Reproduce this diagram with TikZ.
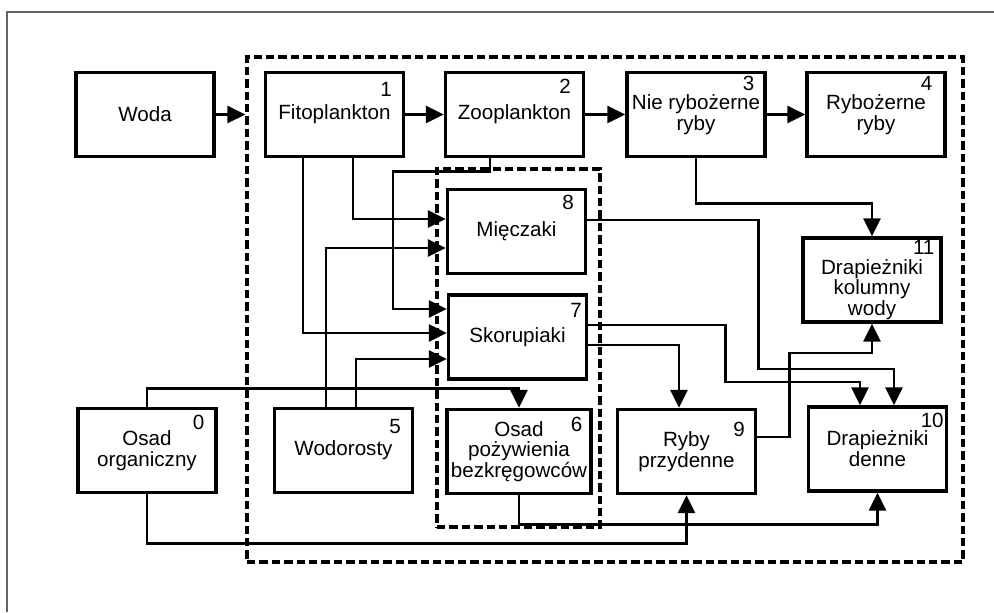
\documentclass[tikz,border=0pt]{standalone}
\usepackage{fontspec}
\setmainfont{Liberation Sans}
\usepackage{tikz}
\usetikzlibrary{shapes,arrows.meta,positioning}
\tikzstyle{box}=[rectangle,draw,line width=1.7pt,align=center,minimum width=69pt,minimum height=42pt,inner sep=1pt,font=\fontsize{10.3}{10.4}\selectfont]
\tikzstyle{num}=[inner sep=0pt,font=\fontsize{10.3}{10.4}\selectfont]
\tikzstyle{zone}=[rectangle,draw,line width=1.6pt,dash pattern=on 4.2pt off 2pt]
\tikzstyle{arr}=[-{Triangle[length=9pt,width=8.5pt]},line width=1.4pt]
\tikzstyle{frame}=[draw=black!60,line width=0.6pt]

\begin{document}
\begin{tikzpicture}[x=0.5pt,y=-0.5pt]
\useasboundingbox (0,0) rectangle (994,612);
\draw[frame] (7,612) -- (7,12) -- (994,12);
% strefy
\node[zone,minimum width=358pt,minimum height=252.5pt] (eco) at (605,309.5) {};
\node[zone,minimum width=81.5pt,minimum height=179pt] (bent) at (518.5,348) {};
% bloki
\node[box] (woda) at (145,114.5) {Woda};
\node[box] (fito) at (334.5,114.5) {Fitoplankton};
\node[box] (zoo) at (514.5,114.5) {Zooplankton};
\node[box] (nie) at (696,114.5) {Nie rybożerne\\ryby};
\node[box] (ryb) at (876,114.5) {Rybożerne\\ryby};
\node[box] (mie) at (516.5,231.5) {Mięczaki};
\node[box] (sko) at (517.5,337) {Skorupiaki};
\node[box] (drap11) at (872,280) {\rule{0pt}{17pt}Drapieżniki\\kolumny\\wody};
\node[box] (osad0) at (147,450.5) {Osad\\organiczny};
\node[box] (wodor) at (343.5,450.5) {Wodorosty};
\node[box,minimum width=72pt] (osad6) at (519,451.5) {Osad\\pożywienia\\bezkręgowców};
\node[box] (ryby9) at (686.5,451.5) {Ryby\\przydenne};
\node[box] (drap10) at (877.5,449) {Drapieżniki\\denne};
% numery
\node[num] (n0) at ([shift={(-19,16)}]osad0.north east) {0};
\node[num] (n1) at ([shift={(-19,19)}]fito.north east) {1};
\node[num] (n2) at ([shift={(-20,15)}]zoo.north east) {2};
\node[num] (n3) at ([shift={(-18,13)}]nie.north east) {3};
\node[num] (n4) at ([shift={(-20,13)}]ryb.north east) {4};
\node[num] (n5) at ([shift={(-19,20)}]wodor.north east) {5};
\node[num] (n6) at ([shift={(-16,17)}]osad6.north east) {6};
\node[num] (n7) at ([shift={(-12,17)}]sko.north east) {7};
\node[num] (n8) at ([shift={(-19,15)}]mie.north east) {8};
\node[num] (n9) at ([shift={(-18,22)}]ryby9.north east) {9};
\node[num] (n10) at ([shift={(-16,15)}]drap10.north east) {10};
\node[num] (n11) at ([shift={(-19,11)}]drap11.north east) {11};
% przeplywy
\draw[arr] (woda) -- (woda -| eco.west);
\draw[arr] (fito) -- (zoo);
\draw[arr] (zoo) -- (nie);
\draw[arr] (nie) -- (ryb);
\draw[arr] (nie.south) -- ++(0,45) -| (drap11.north);
\draw[arr] ([shift={(18.5,0)}]fito.south) |- ([shift={(0,-12.5)}]mie.west);
\draw[arr] ([shift={(-31.5,0)}]fito.south) |- ([shift={(0,-4)}]sko.west);
\draw[arr] ([shift={(-24.5,0)}]zoo.south) -- ++(0,13.5) -- ++(-97,0) |- ([shift={(0,-28)}]sko.west);
\draw[arr] ([shift={(-17.5,0)}]wodor.north) |- ([shift={(0,16.5)}]mie.west);
\draw[arr] ([shift={(12.5,0)}]wodor.north) |- ([shift={(0,22)}]sko.west);
\draw[arr] (osad0.north) -- ++(0,-18.5) -| (osad6.north);
\draw[arr] (osad0.south) -- ++(0,49.5) -| (ryby9.south);
\draw[arr] (osad6.south) -- ++(0,29.5) -| (drap10.south);
\draw[arr] ([shift={(0,-11.5)}]mie.east) -- ++(171.5,0) -- ++(0,149) -| ([shift={(16.5,0)}]drap10.north);
\draw[arr] ([shift={(0,-12)}]sko.east) -- ++(137.5,0) -- ++(0,57) -| ([shift={(-17.5,0)}]drap10.north);
\draw[arr] ([shift={(0,8)}]sko.east) -| ([shift={(-7.5,0)}]ryby9.north);
\draw[arr] ([shift={(0,-14.5)}]ryby9.east) -- ++(32.5,0) -- ++(0,-84) -| (drap11.south);
\end{tikzpicture}
\end{document}
